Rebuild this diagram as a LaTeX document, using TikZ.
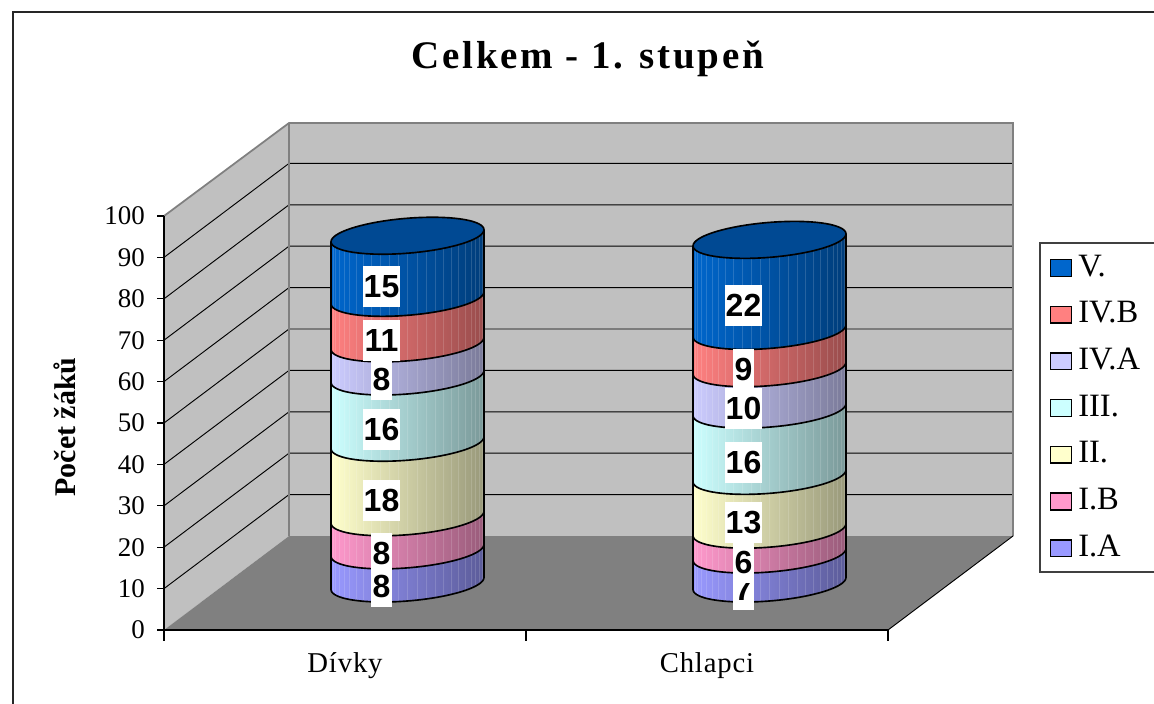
\documentclass[tikz,border=0pt]{standalone}
\usepackage{fontspec}
\setmainfont{Liberation Serif}
\newfontfamily\valfont{Liberation Sans}
\newfontfamily\headfont[LetterSpace=7]{Liberation Serif}
\newfontfamily\catfont[LetterSpace=3]{Liberation Serif}
\definecolor{wall}{RGB}{192,192,192}
\definecolor{floorc}{RGB}{128,128,128}
\definecolor{sIA}{RGB}{153,153,255}
\definecolor{sIB}{RGB}{255,153,204}
\definecolor{sII}{RGB}{255,255,204}
\definecolor{sIII}{RGB}{204,255,255}
\definecolor{sIVA}{RGB}{204,204,255}
\definecolor{sIVB}{RGB}{255,128,128}
\definecolor{sV}{RGB}{0,102,204}

\begin{document}
\begin{tikzpicture}[x=0.03cm, y=-0.03cm,
	tick/.style={anchor=east, inner sep=0pt, font=\fontsize{23}{27}\selectfont},
	cat/.style={anchor=base, inner sep=0pt, font=\catfont\fontsize{24.5}{29}\selectfont},
	val/.style={fill=white, inner xsep=1pt, inner ysep=0pt, minimum height=35pt, font=\valfont\bfseries\fontsize{27.3}{32}\selectfont},
	key/.style={draw=black, line width=1.2pt, minimum width=17.6pt, minimum height=14.2pt, inner sep=0pt},
	keytext/.style={anchor=base west, inner sep=0pt, font=\fontsize{27.8}{32}\selectfont},
	rim/.style={black, line width=1.4pt},
	walledge/.style={draw=black!50, line width=1.5pt}]
	\useasboundingbox (0,0) rectangle (1154,704);
	\draw[line width=1.2pt, black!85] (13,720) -- (13,12) -- (1170,12);
	% walls and floor
	\fill[wall] (164,630) -- (164,216) -- (289,123) -- (289,536) -- cycle;
	\fill[wall] (289,123) rectangle (1013,536);
	\fill[floorc] (164,630) -- (289,536) -- (1013,536) -- (888,630) -- cycle;
	\foreach \k in {1,...,9}
		\draw[line width=0.8pt] (164,630-41.4*\k) -- (289,536-41.4*\k) -- (1013,536-41.4*\k);
	\draw[walledge] (164,216) -- (289,123) -- (1013,123) -- (1013,536);
	\draw[walledge] (289,123) -- (289,536);
	\draw[line width=0.8pt] (1013,536) -- (888,630);
	% cylinders
	\foreach \cx/\lo/\hi/\col in {407.5/0/8/sIA, 407.5/8/16/sIB, 407.5/16/34/sII, 407.5/34/50/sIII,
		407.5/50/58/sIVA, 407.5/58/69/sIVB, 407.5/69/84/sV,
		769.5/0/7/sIA, 769.5/7/13/sIB, 769.5/13/26/sII, 769.5/26/42/sIII,
		769.5/42/52/sIVA, 769.5/52/61/sIVB, 769.5/61/83/sV}
		\shade[left color=\col, right color=\col!60!black]
			plot[domain=199:379, samples=40] ({\cx+72.3*cos(\x)+24.9*sin(\x)}, {583.5-4.14*\lo-18.5*sin(\x)})
			-- plot[domain=379:199, samples=40] ({\cx+72.3*cos(\x)+24.9*sin(\x)}, {583.5-4.14*\hi-18.5*sin(\x)}) -- cycle;
	\foreach \cx/\tv in {407.5/84, 769.5/83}
		\foreach \t in {205,212,...,375}
			\draw[white, opacity=0.15, line width=0.5pt]
				({\cx+72.3*cos(\t)+24.9*sin(\t)}, {583.5-18.5*sin(\t)}) -- ({\cx+72.3*cos(\t)+24.9*sin(\t)}, {583.5-4.14*\tv-18.5*sin(\t)});
	\foreach \cx/\lo in {407.5/0, 407.5/8, 407.5/16, 407.5/34, 407.5/50, 407.5/58, 407.5/69,
		769.5/0, 769.5/7, 769.5/13, 769.5/26, 769.5/42, 769.5/52, 769.5/61}
		\draw[rim] plot[domain=199:379, samples=40] ({\cx+72.3*cos(\x)+24.9*sin(\x)}, {583.5-4.14*\lo-18.5*sin(\x)});
	\foreach \cx/\tv in {407.5/84, 769.5/83}
	{
		\filldraw[rim, fill=sV!72!black] plot[domain=0:360, samples=72] ({\cx+72.3*cos(\x)+24.9*sin(\x)}, {583.5-4.14*\tv-18.5*sin(\x)}) -- cycle;
		\draw[rim] ({\cx-76.5},589.5) -- ({\cx-76.5},{589.5-4.14*\tv});
		\draw[rim] ({\cx+76.5},577.5) -- ({\cx+76.5},{577.5-4.14*\tv});
	}
	% data labels
	\foreach \cx/\lo/\hi/\nm in {407.5/0/8/dIA, 407.5/8/16/dIB, 407.5/16/34/dII, 407.5/34/50/dIII,
		407.5/50/58/dIVA, 407.5/58/69/dIVB, 407.5/69/84/dV,
		769.5/0/7/cIA, 769.5/7/13/cIB, 769.5/13/26/cII, 769.5/26/42/cIII,
		769.5/42/52/cIVA, 769.5/52/61/cIVB, 769.5/61/83/cV}
	{
		\pgfmathtruncatemacro\v{\hi-\lo}
		\node[val] (\nm) at ({\cx-26}, {583.5-2.07*(\lo+\hi)+20}) {\v};
	}
	% axes
	\draw[line width=1pt] (164,216) -- (164,630) -- (888,630);
	\foreach \k [evaluate=\k as \lab using int(10*\k)] in {0,...,10}
	{
		\draw[line width=1pt] (157,630-41.4*\k) -- (164,630-41.4*\k);
		\node[tick] (t\k) at (145,630-41.4*\k) {\lab};
	}
	\foreach \xt in {164,526,888}
		\draw[line width=1pt] (\xt,630) -- (\xt,641);
	\node[cat] (divky) at (345,672) {Dívky};
	\node[cat] (chlapci) at (707,672) {Chlapci};
	\node[rotate=90, anchor=base, inner sep=0pt, font=\bfseries\fontsize{25.6}{30}\selectfont] (ytitle) at (75,427) {Počet žáků};
	\node[anchor=base, inner sep=0pt, font=\headfont\bfseries\fontsize{33.3}{38}\selectfont] (title) at (588,69) {Celkem - 1. stupeň};
	% legend
	\draw[line width=1pt, black!75] (1040,243) rectangle (1170,572);
	\foreach \i/\col/\txt in {0/sV/V., 1/sIVB/IV.B, 2/sIVA/IV.A, 3/sIII/III., 4/sII/II., 5/sIB/I.B, 6/sIA/I.A}
	{
		\node[key, fill=\col] (k\i) at (1061,268+46.7*\i) {};
		\node[keytext] (l\i) at (1078,276+46.7*\i) {\txt};
	}
\end{tikzpicture}
\end{document}
